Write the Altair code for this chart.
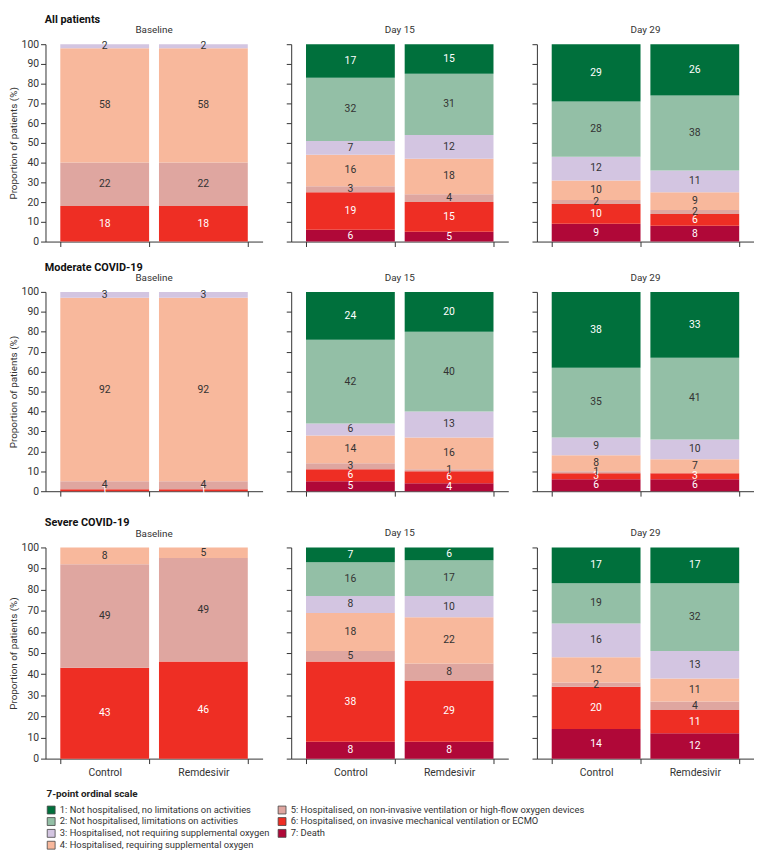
import altair as alt
import pandas as pd

FONT = "Roboto, sans-serif"

categories = [
    "1: Not hospitalised, no limitations on activities",
    "2: Not hospitalised, limitations on activities",
    "3: Hospitalised, not requiring supplemental oxygen",
    "4: Hospitalised, requiring supplemental oxygen",
    "5: Hospitalised, on non-invasive ventilation or high-flow oxygen devices",
    "6: Hospitalised, on invasive mechanical ventilation or ECMO",
    "7: Death",
]
cat_colors = ["#00703C", "#93BFA6", "#D3C5E1", "#F8B89C", "#DFA6A0", "#EE2E24", "#B00838"]
text_colors = ["white", "#333333", "#333333", "#333333", "#333333", "white", "white"]

groups = ["All patients", "Moderate COVID-19", "Severe COVID-19"]
timepoints = ["Baseline", "Day 15", "Day 29"]
arms = ["Control", "Remdesivir"]

# values per category 1..7 (percent)
all_base_ctl = [0, 0, 2, 58, 22, 18, 0]
all_base_rem = [0, 0, 2, 58, 22, 18, 0]
all_d15_ctl = [17, 32, 7, 16, 3, 19, 6]
all_d15_rem = [15, 31, 12, 18, 4, 15, 5]
all_d29_ctl = [29, 28, 12, 10, 2, 10, 9]
all_d29_rem = [26, 38, 11, 9, 2, 6, 8]
mod_base_ctl = [0, 0, 3, 92, 4, 1, 0]
mod_base_rem = [0, 0, 3, 92, 4, 1, 0]
mod_d15_ctl = [24, 42, 6, 14, 3, 6, 5]
mod_d15_rem = [20, 40, 13, 16, 1, 6, 4]
mod_d29_ctl = [38, 35, 9, 8, 1, 3, 6]
mod_d29_rem = [33, 41, 10, 7, 0, 3, 6]
sev_base_ctl = [0, 0, 0, 8, 49, 43, 0]
sev_base_rem = [0, 0, 0, 5, 49, 46, 0]
sev_d15_ctl = [7, 16, 8, 18, 5, 38, 8]
sev_d15_rem = [6, 17, 10, 22, 8, 29, 8]
sev_d29_ctl = [17, 19, 16, 12, 2, 20, 14]
sev_d29_rem = [17, 32, 13, 11, 4, 11, 12]

table = {
    ("All patients", "Baseline"): (all_base_ctl, all_base_rem),
    ("All patients", "Day 15"): (all_d15_ctl, all_d15_rem),
    ("All patients", "Day 29"): (all_d29_ctl, all_d29_rem),
    ("Moderate COVID-19", "Baseline"): (mod_base_ctl, mod_base_rem),
    ("Moderate COVID-19", "Day 15"): (mod_d15_ctl, mod_d15_rem),
    ("Moderate COVID-19", "Day 29"): (mod_d29_ctl, mod_d29_rem),
    ("Severe COVID-19", "Baseline"): (sev_base_ctl, sev_base_rem),
    ("Severe COVID-19", "Day 15"): (sev_d15_ctl, sev_d15_rem),
    ("Severe COVID-19", "Day 29"): (sev_d29_ctl, sev_d29_rem),
}

rows = []
for (g, t), pair in table.items():
    for arm, vals in zip(arms, pair):
        lo = 0
        for i in range(6, -1, -1):
            v = vals[i]
            if v <= 0:
                continue
            rows.append(dict(group=g, time=t, arm=arm, cat=categories[i], val=v,
                             lo=lo, hi=lo + v, mid=lo + v / 2, label=str(v),
                             tc=text_colors[i]))
            lo += v
df = pd.DataFrame(rows)

color_enc = alt.Color(
    "cat:N",
    scale=alt.Scale(domain=categories, range=cat_colors),
    legend=alt.Legend(
        title="7-point ordinal scale", orient="none", legendX=1, legendY=755,
        columns=2, titleFontSize=10, titleFontWeight="bold", titleColor="#222222",
        titlePadding=6, labelFontSize=9.5, labelColor="#333333", labelLimit=600,
        symbolType="square", symbolSize=64, symbolStrokeColor="#444444",
        symbolStrokeWidth=0.8, rowPadding=0, columnPadding=6, labelOffset=4,
        titleFont=FONT, labelFont=FONT,
    ),
)

W = 220


def panel(g, t, h, ylab, xlab):
    base = alt.Chart(df).transform_filter(
        (alt.datum.group == g) & (alt.datum.time == t))
    xscale = alt.Scale(paddingInner=0.1, paddingOuter=0.15)
    xaxis = alt.Axis(labels=xlab, labelAngle=0, tickBand="extent",
                     tickSize=5, domainColor="#333333", tickColor="#333333",
                     labelColor="#333333", labelFontSize=10.5, labelPadding=4)
    yscale = alt.Scale(domain=[0, 100], nice=False)
    yaxis = alt.Axis(values=list(range(0, 101, 10)), labels=ylab,
                     tickSize=5, domainColor="#333333", tickColor="#333333",
                     labelColor="#333333", labelFontSize=10.5, labelPadding=2,
                     titleFontSize=10, titleFontWeight="normal",
                     titleColor="#333333", titlePadding=3, grid=False)
    ytitle = "Proportion of patients (%)" if ylab else None
    bars = base.mark_bar().encode(
        x=alt.X("arm:N", sort=arms, scale=xscale, axis=xaxis, title=None),
        y=alt.Y("lo:Q", scale=yscale, axis=yaxis, title=ytitle),
        y2="hi:Q", color=color_enc)
    text = base.mark_text(fontSize=10.5, font=FONT).encode(
        x=alt.X("arm:N", sort=arms, scale=xscale, axis=xaxis, title=None),
        y=alt.Y("mid:Q", scale=yscale, axis=yaxis, title=ytitle),
        text="label:N",
        color=alt.Color("tc:N", scale=None),
    )
    return alt.layer(bars, text).properties(
        width=W, height=h,
        title=alt.Title(t, fontSize=10, fontWeight="normal", color="#333333",
                        offset=4 if ylab else 9, font=FONT))


heights = [200, 202, 214]
row_charts = []
for ri, g in enumerate(groups):
    panels = [panel(g, t, heights[ri], ci == 0, ri == 2) for ci, t in enumerate(timepoints)]
    row = alt.hconcat(*panels, spacing=23).properties(
        title=alt.Title(g, fontSize=11, fontWeight="bold", anchor="start", dx=37,
                        offset=0, color="#111111", font=FONT))
    row_charts.append(row)

top = alt.vconcat(row_charts[0], row_charts[1], spacing=14)
chart = alt.vconcat(top, row_charts[2], spacing=20).properties(padding=0).configure(
    font=FONT).configure_view(stroke=None).configure_axis(labelFont=FONT, titleFont=FONT)

chart.save("out.html", embed_options={"renderer": "svg", "actions": False})
